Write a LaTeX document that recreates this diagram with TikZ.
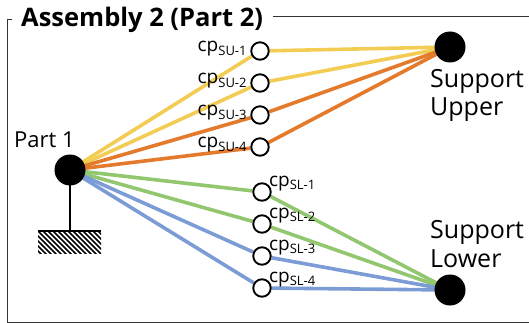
\documentclass[tikz,border=0pt]{standalone}
\usepackage{fontspec}
\setmainfont{Open Sans}
\usetikzlibrary{backgrounds}
\definecolor{cyel}{RGB}{243,204,84}
\definecolor{corg}{RGB}{228,122,44}
\definecolor{cgrn}{RGB}{146,199,112}
\definecolor{cblu}{RGB}{124,156,214}
\tikzset{
  bigdot/.style={circle,fill=black,inner sep=0pt,minimum size=31pt},
  cpdot/.style={circle,draw=black,line width=1.9pt,fill=white,inner sep=0pt,minimum size=17.5pt},
  link/.style={line width=3.6pt},
  lbl/.style={inner sep=0pt,font=\fontsize{22}{26}\selectfont},
  suplbl/.style={inner sep=0pt,font=\fontsize{25}{30}\selectfont},
  cplbl/.style={inner sep=0pt,font=\fontsize{19}{22}\selectfont},
  frame/.style={line width=1pt,black!80}
}
\newcommand{\cpname}[2]{cp\textsubscript{\fontsize{13}{15}\selectfont #1-#2}}
\begin{document}
\begin{tikzpicture}[x=1pt,y=-1pt]
\useasboundingbox (0,0) rectangle (529,323);

% frame around the assembly
\draw[frame] (12,20) -- (7,20) -- (7,322) -- (529,322);
\draw[frame] (273,17) -- (529,17);
\node[anchor=base west,inner sep=0pt,font=\fontsize{25.5}{30}\selectfont\bfseries] (title) at (21,27) {Assembly 2 (Part 2)};

% parts
\node[bigdot] (p1) at (70,170) {};
\node[bigdot] (sup) at (450,47) {};
\node[bigdot] (slo) at (450,290) {};

% ground symbol under Part 1
\coordinate (gnd) at (70,231);
\draw[line width=1.6pt] (p1.center) -- (gnd);
\begin{scope}
  \clip (38,231) rectangle (101,253);
  \foreach \i in {-30,-25,...,110} {
    \draw[line width=1.5pt] (38+\i,231) -- (38+\i+24,255);
  }
\end{scope}
\draw[line width=2pt] (38,231) -- (101,231);

% connection points
\foreach \k/\yy in {1/51,2/83,3/115,4/147} {
  \node[cpdot] (su\k) at (260,\yy) {};
}
\foreach \k/\yy in {1/192,2/224,3/256,4/288} {
  \node[cpdot] (sl\k) at (262,\yy) {};
}

% connector lines
\begin{scope}[on background layer]
  \foreach \k/\c in {1/cyel,2/cyel,3/corg,4/corg} {
    \draw[link,\c] (p1.center) -- (su\k);
    \draw[link,\c] (su\k) -- (sup.center);
  }
  \foreach \k/\c in {1/cgrn,2/cgrn,3/cblu,4/cblu} {
    \draw[link,\c] (p1.center) -- (sl\k);
    \draw[link,\c] (sl\k) -- (slo.center);
  }
\end{scope}

% labels
\node[lbl,anchor=base west] (tp1) at (14,147) {Part 1};
\node[suplbl,anchor=base west] (tsu) at (430,88) {Support};
\node[suplbl,anchor=base west] (tsu2) at (430,116) {Upper};
\node[suplbl,anchor=base west] (tsl) at (430,238) {Support};
\node[suplbl,anchor=base west] (tsl2) at (430,267) {Lower};

\foreach \k in {1,2,3,4} {
  \node[cplbl,anchor=base east] at ([xshift=-3pt,yshift=-1pt]su\k.west) {\cpname{SU}{\k}};
  \node[cplbl,anchor=base west] at ([xshift=0pt,yshift=-1pt]sl\k.north east) {\cpname{SL}{\k}};
}
\end{tikzpicture}
\end{document}
